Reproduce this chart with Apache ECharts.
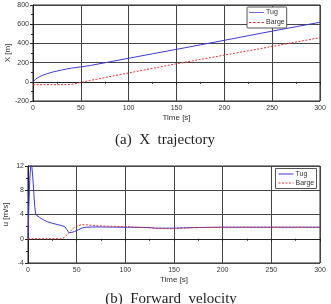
<!DOCTYPE html>
<html>
<head>
<meta charset="utf-8">
<script src="https://cdn.jsdelivr.net/npm/echarts@6/dist/echarts.min.js"></script>
<style>
  html, body { margin: 0; padding: 0; background: #fff; }
  #chart { width: 331px; height: 304px; }
</style>
</head>
<body>
<div id="chart"></div>
<script>
// (a) X trajectory
const tugXTime = [0, 1, 2, 3, 5, 7, 10, 15, 20, 25, 30, 35, 40, 50, 60, 75, 100, 125, 150, 175, 200, 225, 250, 275, 300]
const tugX = [0, 10, 20, 30, 45, 55, 68, 85, 100, 112, 123, 133, 142, 155, 170, 198, 245, 292, 338, 385, 432, 480, 528, 574, 620]
const bargeXTime = [0, 20, 35, 40, 45, 50, 55, 60, 75, 100, 125, 150, 175, 200, 225, 250, 275, 300]
const bargeX = [-30, -30, -30, -27, -18, -6, 4, 14, 44, 92, 140, 188, 233, 278, 323, 368, 414, 460]

// (b) Forward velocity
const tugUTime = [0, 1, 2, 3, 4, 5, 6, 7, 8, 9, 12, 16, 20, 25, 30, 35, 38, 40, 42, 45, 48, 52, 56, 60, 70, 100, 125, 130, 150, 160, 170, 200, 250, 300]
const tugU = [0, 6, 10.5, 12.2, 11.8, 10, 7.5, 5.2, 4.0, 3.8, 3.5, 3.1, 2.8, 2.55, 2.35, 2.15, 1.95, 1.5, 1.0, 1.05, 1.2, 1.5, 1.8, 1.9, 1.95, 1.9, 1.85, 1.75, 1.75, 1.8, 1.85, 1.9, 1.9, 1.9]
const bargeUTime = [0, 35, 38, 41, 44, 47, 50, 55, 60, 70, 85, 100, 120, 135, 150, 160, 175, 200, 250, 300]
const bargeU = [0, 0, 0.3, 0.8, 1.3, 1.8, 2.1, 2.3, 2.3, 2.15, 2.05, 2.0, 1.85, 1.7, 1.65, 1.75, 1.85, 1.9, 1.9, 1.9]

const legendNames = ['Tug', 'Barge']

function pairs(t, v) {
  return t.map((x, i) => [x, v[i]])
}

const labelFont = { fontSize: 7, color: '#333', fontFamily: 'Liberation Sans' }
const nameFont = { fontSize: 8, color: '#333', fontFamily: 'Liberation Sans' }
const captionFont = { fontFamily: 'Liberation Serif', fontWeight: 'normal', fontSize: 15, color: '#222' }

const tugStyle = { color: '#3a3ad8', width: 1, type: 'solid' }
const bargeStyle = { color: '#e83030', width: 1, type: [2, 1.5] }

// legend icons: a thin solid bar and a thin dashed bar
const solidIcon = 'path://M0,0H20V1H0Z'
const dashIcon = 'path://M0,0H3V1H0Z M5,0H8V1H5Z M10,0H13V1H10Z M15,0H18V1H15Z'

function xAxisOf(gridIndex) {
  return {
    type: 'value', gridIndex, min: 0, max: 300, interval: 50,
    name: 'Time [s]', nameLocation: 'middle', nameGap: 13, nameTextStyle: nameFont,
    nameMoveOverlap: false,
    axisLine: { lineStyle: { color: '#222', width: 1 } },
    axisTick: { length: 3, lineStyle: { color: '#222' } },
    minorTick: { show: true, splitNumber: 2, length: 2, lineStyle: { color: '#222' } },
    axisLabel: Object.assign({ margin: 4 }, labelFont),
    splitLine: { show: true, lineStyle: { color: '#444', width: 1 } }
  }
}

function yAxisOf(gridIndex, min, max, interval, name, gap) {
  return {
    type: 'value', gridIndex, min, max, interval,
    name, nameLocation: 'middle', nameGap: gap, nameTextStyle: nameFont,
    nameMoveOverlap: false,
    axisLine: { show: true, lineStyle: { color: '#222', width: 1 } },
    axisTick: { show: true, length: 3, lineStyle: { color: '#222' } },
    minorTick: { show: true, splitNumber: 2, length: 2, lineStyle: { color: '#222' } },
    axisLabel: Object.assign({ margin: 4 }, labelFont),
    splitLine: { show: true, lineStyle: { color: '#444', width: 1 } }
  }
}

// the lower legend is drawn by hand: a second echarts legend kept coming out grey
function handLegend(left, top) {
  const styles = [tugStyle, bargeStyle]
  const children = [{
    type: 'rect', shape: { x: 0, y: 0, width: 41, height: 20 },
    style: { fill: '#fff', stroke: '#555', lineWidth: 1 }
  }]
  legendNames.forEach((name, i) => {
    const y = 5.5 + i * 9
    children.push({
      type: 'line', shape: { x1: 3, y1: y, x2: 18, y2: y },
      style: { stroke: styles[i].color, lineWidth: 1, lineDash: i === 1 ? [2, 1.5] : null }
    })
    children.push({
      type: 'text', x: 20, y,
      style: { text: name, fontSize: 7, fontFamily: 'Liberation Sans', fill: '#333', verticalAlign: 'middle' }
    })
  })
  return { type: 'group', left, top, z: 10, children }
}

const chart = echarts.init(document.getElementById('chart'), null, { renderer: 'canvas' })
const option = {
  animation: false,
  title: [
    { text: '(a)  X  trajectory', left: 160, top: 128, textAlign: 'center', textStyle: captionFont },
    { text: '(b)  Forward  velocity', left: 166, top: 287, textAlign: 'center', textStyle: captionFont }
  ],
  grid: [
    { left: 33, right: 11, top: 5, height: 96, show: true, borderColor: '#222', borderWidth: 1, outerBoundsMode: 'none' },
    { left: 28, right: 11, top: 166, height: 97, show: true, borderColor: '#222', borderWidth: 1, outerBoundsMode: 'none' }
  ],
  legend: {
    data: [
      { name: legendNames[0] + ' x', icon: solidIcon, itemStyle: { color: tugStyle.color } },
      { name: legendNames[1] + ' x', icon: dashIcon, itemStyle: { color: bargeStyle.color } }
    ],
    formatter: name => name.split(' ')[0],
    orient: 'vertical', left: 247, top: 7, padding: [2, 2, 2, 2],
    itemGap: 3, itemWidth: 15, itemHeight: 6, backgroundColor: '#fff',
    borderColor: '#555', borderWidth: 1, borderRadius: 1,
    textStyle: Object.assign({ padding: [0, 0, 0, -3] }, labelFont)
  },
  graphic: [handLegend(275, 168)],
  xAxis: [xAxisOf(0), xAxisOf(1)],
  yAxis: [
    yAxisOf(0, -200, 800, 200, 'X [m]', 21),
    yAxisOf(1, -4, 12, 4, 'u [m/s]', 18)
  ],
  series: [
    { name: 'Tug x', type: 'line', xAxisIndex: 0, yAxisIndex: 0, symbol: 'none',
      color: tugStyle.color, lineStyle: tugStyle, data: pairs(tugXTime, tugX) },
    { name: 'Barge x', type: 'line', xAxisIndex: 0, yAxisIndex: 0, symbol: 'none',
      color: bargeStyle.color, lineStyle: bargeStyle, data: pairs(bargeXTime, bargeX) },
    { name: 'Tug u', type: 'line', xAxisIndex: 1, yAxisIndex: 1, symbol: 'none',
      color: tugStyle.color, lineStyle: tugStyle, data: pairs(tugUTime, tugU) },
    { name: 'Barge u', type: 'line', xAxisIndex: 1, yAxisIndex: 1, symbol: 'none',
      color: bargeStyle.color, lineStyle: bargeStyle, data: pairs(bargeUTime, bargeU) }
  ]
}
option && chart.setOption(option)
</script>
</body>
</html>
